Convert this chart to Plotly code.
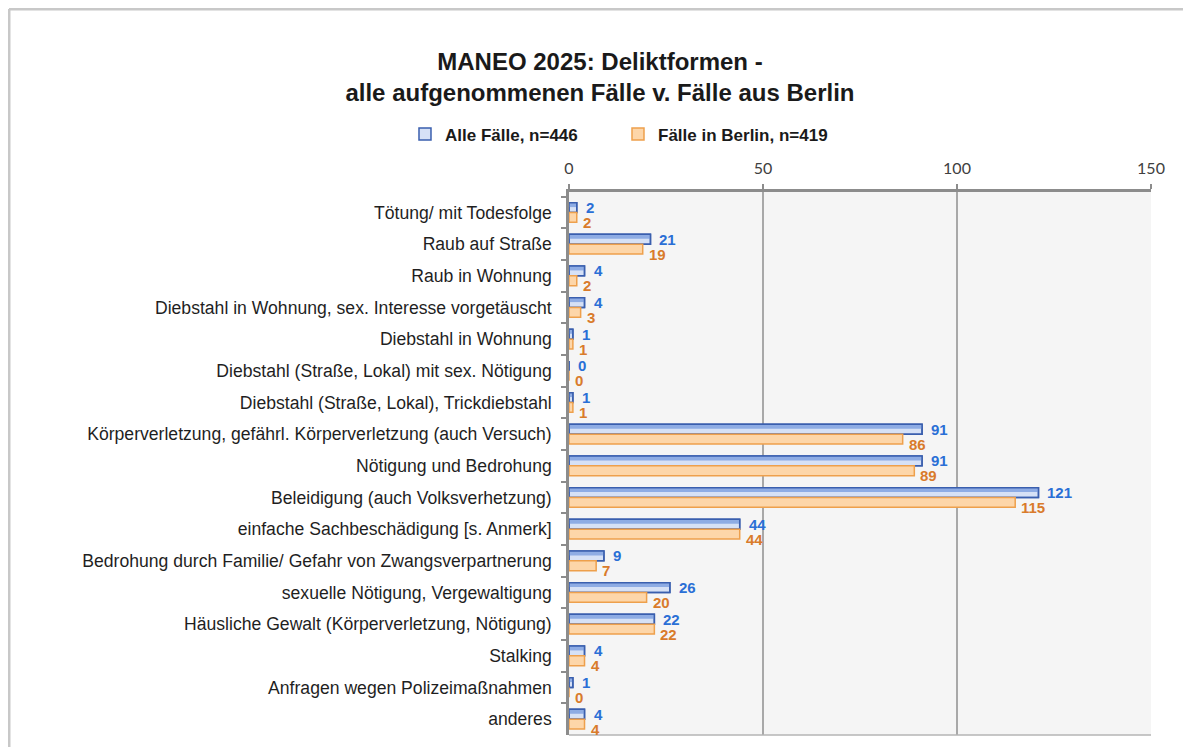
import plotly.graph_objects as go

categories = [
    "Tötung/ mit Todesfolge",
    "Raub auf Straße",
    "Raub in Wohnung",
    "Diebstahl in Wohnung, sex. Interesse vorgetäuscht",
    "Diebstahl in Wohnung",
    "Diebstahl (Straße, Lokal) mit sex. Nötigung",
    "Diebstahl (Straße, Lokal), Trickdiebstahl",
    "Körperverletzung, gefährl. Körperverletzung (auch Versuch)",
    "Nötigung und Bedrohung",
    "Beleidigung (auch Volksverhetzung)",
    "einfache Sachbeschädigung [s. Anmerk]",
    "Bedrohung durch Familie/ Gefahr von Zwangsverpartnerung",
    "sexuelle Nötigung, Vergewaltigung",
    "Häusliche Gewalt (Körperverletzung, Nötigung)",
    "Stalking",
    "Anfragen wegen Polizeimaßnahmen",
    "anderes",
]
alle_faelle = [2, 21, 4, 4, 1, 0, 1, 91, 91, 121, 44, 9, 26, 22, 4, 1, 4]
berlin_faelle = [2, 19, 2, 3, 1, 0, 1, 86, 89, 115, 44, 7, 20, 22, 4, 0, 4]
series_names = ["Alle Fälle, n=446", "Fälle in Berlin, n=419"]
x_ticks = [0, 50, 100, 150]

BLUE_EDGE = "#3a5fae"
BLUE_FILL = "#d6e1f6"
BLUE_TOP = "#8eace4"
ORANGE_EDGE = "#eea04c"
ORANGE_FILL = "#fdd6a9"
BLUE_TXT = "#2a6fd6"
ORANGE_TXT = "#d97b2b"

W = 0.31  # bar thickness in category units

fig = go.Figure()
# blue series: base, gradient strip, outline
fig.add_trace(go.Bar(y=categories, x=alle_faelle, orientation="h", name=series_names[0],
                     width=W, offset=-W, marker=dict(color=BLUE_FILL, line=dict(color=BLUE_EDGE, width=1.5)),
                     legendrank=1))
fig.add_trace(go.Bar(y=categories, x=alle_faelle, orientation="h", showlegend=False, hoverinfo="skip",
                     width=W * 0.45, offset=-W, marker=dict(color=BLUE_TOP, line=dict(width=0))))
fig.add_trace(go.Bar(y=categories, x=alle_faelle, orientation="h", showlegend=False, hoverinfo="skip",
                     width=W, offset=-W, marker=dict(color="rgba(0,0,0,0)", line=dict(color=BLUE_EDGE, width=1.5))))
# orange series
fig.add_trace(go.Bar(y=categories, x=berlin_faelle, orientation="h", name=series_names[1],
                     width=W, offset=0, marker=dict(color=ORANGE_FILL, line=dict(color=ORANGE_EDGE, width=1.5)),
                     legendrank=2))

annotations = []
for c, v in zip(categories, alle_faelle):
    annotations.append(dict(x=v, y=c, xref="x", yref="y", text=str(v), showarrow=False,
                            xanchor="left", yanchor="middle", xshift=7, yshift=5,
                            font=dict(family="Arial, Liberation Sans", size=15, color=BLUE_TXT, weight="bold")))
for c, v in zip(categories, berlin_faelle):
    annotations.append(dict(x=v, y=c, xref="x", yref="y", text=str(v), showarrow=False,
                            xanchor="left", yanchor="middle", xshift=4, yshift=-10,
                            font=dict(family="Arial, Liberation Sans", size=15, color=ORANGE_TXT, weight="bold")))

# page frame + bottom border of plot area
shapes = [
    dict(type="line", xref="paper", yref="paper", x0=-0.9622, x1=1.07, y0=1.3370, y1=1.3370,
         line=dict(color="#c8c8c8", width=3)),
    dict(type="line", xref="paper", yref="paper", x0=-0.9622, x1=-0.9622, y0=-0.03, y1=1.3370,
         line=dict(color="#c8c8c8", width=3)),
    dict(type="line", xref="paper", yref="paper", x0=0, x1=1, y0=0, y1=0,
         line=dict(color="#b4b4b4", width=1.5)),
]

fig.update_layout(
    width=1183, height=739,
    margin=dict(l=561, r=40, t=184, b=12),
    paper_bgcolor="white", plot_bgcolor="#f5f5f5",
    barmode="overlay",
    title=dict(text="MANEO 2025: Deliktformen -<br>alle aufgenommenen Fälle v. Fälle aus Berlin",
               x=0.5004, xanchor="center", y=1 - 61.5 / 739, yanchor="middle", yref="container",
               font=dict(family="Arial, Liberation Sans", size=24, color="#1a1a1a", weight="bold")),
    legend=dict(orientation="h", x=-0.2818, xanchor="left", y=1.1059, yanchor="middle",
                entrywidth=168,
                font=dict(family="Arial, Liberation Sans", size=17, color="#1a1a1a", weight="bold"),
                bgcolor="rgba(0,0,0,0)", itemclick=False),
    xaxis=dict(side="top", range=[0, 150], tickvals=x_ticks, showgrid=True, gridcolor="#a8a8a8", gridwidth=2,
               showline=True, linecolor="#8c8c8c", linewidth=3, ticks="outside", ticklen=5, tickwidth=2,
               tickcolor="#8c8c8c", zeroline=False, ticklabelstandoff=4,
               tickfont=dict(family="Lato, Open Sans", size=16, color="#404040")),
    yaxis=dict(autorange="reversed", showline=True, linecolor="#8c8c8c", linewidth=2.5,
               ticks="outside", tickson="boundaries", ticklen=5, tickwidth=1.5, tickcolor="#8c8c8c",
               showgrid=False, ticklabelstandoff=11,
               tickfont=dict(family="Arial, Liberation Sans", size=17.6, color="#1f1f1f")),
    annotations=annotations,
    shapes=shapes,
    showlegend=True,
)

fig.write_html("out.html")
